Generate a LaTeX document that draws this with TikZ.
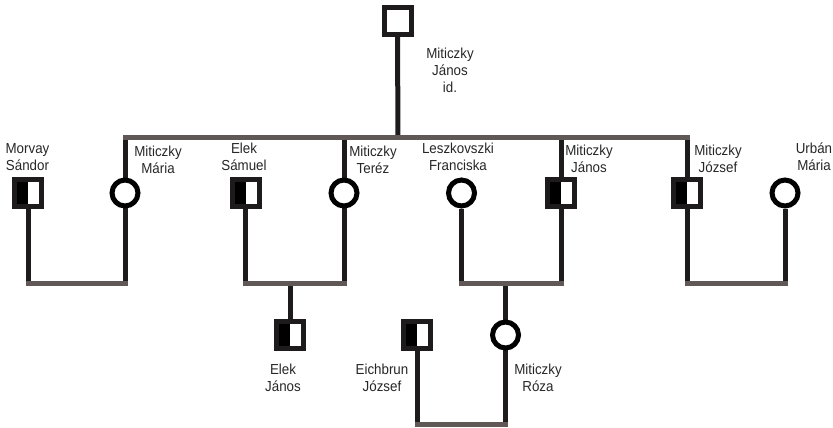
\documentclass[tikz,border=0pt]{standalone}
\usepackage{fontspec}
\setmainfont{Liberation Sans}[FakeStretch=0.92]
\usetikzlibrary{backgrounds}
\definecolor{kinline}{HTML}{1E1B1C}
\definecolor{barline}{HTML}{5F5856}
\tikzset{
  sq/.style={rectangle, draw=kinline, line width=5pt, minimum size=27pt, inner sep=0pt, fill=white},
  halfsq/.style={sq, path picture={\fill[black] (path picture bounding box.south west) rectangle (path picture bounding box.north);}},
  circ/.style={circle, draw=black, line width=5pt, minimum size=26pt, inner sep=0pt, fill=white},
  lbl/.style={font=\fontsize{14.5}{17}\selectfont, align=center, inner sep=0pt, text=black!85},
  kin/.style={line width=5pt, draw=kinline},
  bar/.style={line width=5pt, draw=barline, line cap=rect},
}
\begin{document}
\begin{tikzpicture}[x=1pt,y=-1pt]
\useasboundingbox (0,0) rectangle (833,428);
% persons
\node[sq] (p0) at (397.5,21) {};
\node[halfsq] (morvay) at (28,193) {};
\node[circ] (maria) at (125,193) {};
\node[halfsq] (samuel) at (245.5,193) {};
\node[circ] (terez) at (344,193) {};
\node[circ] (leszk) at (461.5,193) {};
\node[halfsq] (janos) at (561,193) {};
\node[halfsq] (jozsef) at (687,193) {};
\node[circ] (urban) at (785,193) {};
\node[halfsq] (elekj) at (290,335) {};
\node[halfsq] (eich) at (417,335) {};
\node[circ] (roza) at (505.5,335) {};
% junction coordinates
\coordinate (tbL) at (125,137);
\coordinate (tbR) at (687,137);
\coordinate (tbM) at (398,137);
\coordinate (b1) at (0,283);
\coordinate (b4) at (0,424);
\coordinate (c2) at (290,283);
\coordinate (c3) at (505.5,283);
% labels
\node[lbl] (t0) at (450,70) {Miticzky\\János\\id.};
\node[lbl] (tmorvay) at (27.5,157) {Morvay\\Sándor};
\node[lbl] (tmaria) at (158,160) {Miticzky\\Mária};
\node[lbl] (tsamuel) at (244,157) {Elek\\Sámuel};
\node[lbl] (tterez) at (373,160) {Miticzky\\Teréz};
\node[lbl] (tleszk) at (458,157) {Leszkovszki\\Franciska};
\node[lbl] (tjanos) at (589,159) {Miticzky\\János};
\node[lbl] (tjozsef) at (718,159) {Miticzky\\József};
\node[lbl] (turban) at (814,157) {Urbán\\Mária};
\node[lbl] (telekj) at (283,378) {Elek\\János};
\node[lbl] (teich) at (382,378) {Eichbrun\\József};
\node[lbl] (troza) at (538,378) {Miticzky\\Róza};
% connectors
\begin{scope}[on background layer]
\draw[kin] (p0.south) -- (tbM);
\draw[kin] (tbL) -- (maria |- b1);
\draw[kin] (terez |- tbL) -- (terez |- b1);
\draw[kin] (janos |- tbL) -- (janos |- b1);
\draw[kin] (tbR) -- (jozsef |- b1);
\draw[kin] (morvay.south) -- (morvay |- b1);
\draw[kin] (samuel.south) -- (samuel |- b1);
\draw[kin] (leszk.south) -- (leszk |- b1);
\draw[kin] (urban.south) -- (urban |- b1);
\draw[kin] (c2) -- (elekj.north);
\draw[kin] (c3) -- (roza |- b4);
\draw[kin] (eich.south) -- (eich |- b4);
\draw[bar] (tbL) -- (tbR);
\draw[bar] (morvay |- b1) -- (maria |- b1);
\draw[bar] (samuel |- b1) -- (terez |- b1);
\draw[bar] (leszk |- b1) -- (janos |- b1);
\draw[bar] (jozsef |- b1) -- (urban |- b1);
\draw[bar] (eich |- b4) -- (roza |- b4);
\end{scope}
\end{tikzpicture}
\end{document}
